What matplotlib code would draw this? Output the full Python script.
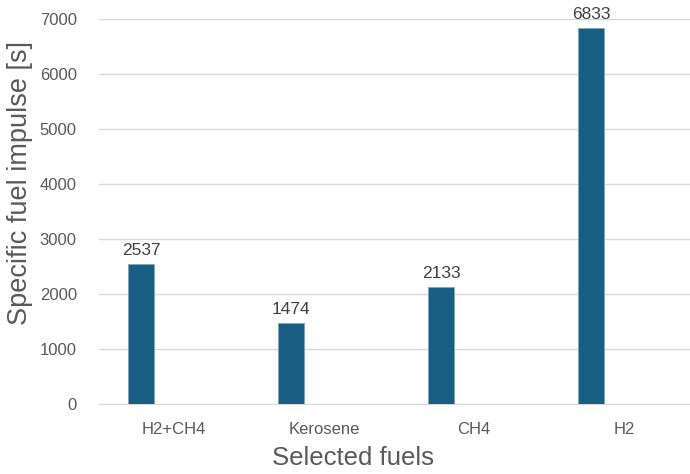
import matplotlib
matplotlib.use("Agg")
import matplotlib.pyplot as plt
import numpy as np

categories = ["H2+CH4", "Kerosene", "CH4", "H2"]
values = [2537, 1474, 2133, 6833]
yticks = [0, 1000, 2000, 3000, 4000, 5000, 6000, 7000]

plt.rcParams['font.family'] = ['Liberation Sans', 'DejaVu Sans']
fig = plt.figure(figsize=(6.9, 4.74), dpi=100)
ax = fig.add_axes([99/690, 70/474, 591/690, 385/474])

x = np.arange(len(categories))
offset = -0.22
bars = ax.bar(x + offset, values, width=0.173, color="#175E82", edgecolor="#7FA6BD", linewidth=0.6, zorder=3)
for xi, v in zip(x + offset, values):
    ax.text(xi, v + 110, str(v), ha="center", va="bottom", fontsize=12.5, color="#404040")

ax.set_xlim(-0.5, 3.44)
ax.set_ylim(0, 7000)
ax.set_yticks(yticks)
ax.set_yticklabels([str(t) for t in yticks], fontsize=12, color="#595959")
ax.set_xticks(x)
ax.set_xticklabels(categories, fontsize=12, color="#595959")
ax.tick_params(axis="y", length=0, pad=16)
ax.tick_params(axis="x", length=0, pad=13)
ax.yaxis.grid(True, color="#D9D9D9", linewidth=1, zorder=0)
for s in ["top", "right", "left"]:
    ax.spines[s].set_visible(False)
ax.spines["bottom"].set_color("#D9D9D9")
ax.set_ylabel("Specific fuel impulse [s]", fontsize=19.5, color="#595959")
ax.set_xlabel("Selected fuels", fontsize=18.5, color="#595959")
ax.yaxis.set_label_coords(-0.112, 0.574)
ax.xaxis.set_label_coords(0.43, -0.108)

fig.savefig("out.png", dpi=100)
